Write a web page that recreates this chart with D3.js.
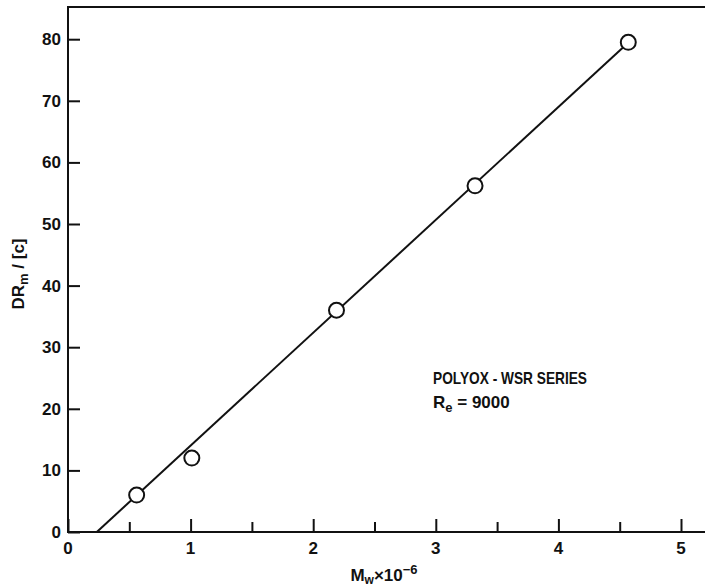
<!DOCTYPE html>
<html>
<head>
<meta charset="utf-8">
<script src="https://cdn.jsdelivr.net/npm/d3@7"></script>
<style>
  body { margin: 0; background: #fff; }
  text { font-family: "Liberation Sans", Arial, sans-serif; font-weight: bold; fill: #111; }
</style>
</head>
<body>
<svg id="chart" width="705" height="588"></svg>
<script>
// measured points, M_w x 10^-6 vs DR_m/[c]
const mw = [0.56, 1.01, 2.19, 3.32, 4.57]
const drc = [6, 12, 36, 56.2, 79.5]
// fitted straight line, two ends in data units
const fitX = [0.235, 4.6]
const fitY = [0, 80]
const xTicks = [0, 1, 2, 3, 4, 5]
const xMinorTicks = [0.5, 1.5, 2.5, 3.5, 4.5]
const yTicks = [0, 10, 20, 30, 40, 50, 60, 70, 80]

const svg = d3.select('#chart')
const plotLeft = 68, plotRight = 705, plotTop = 7, plotBottom = 532

const x = d3.scaleLinear().domain([0, 5]).range([plotLeft, plotLeft + 5*122.6])
const y = d3.scaleLinear().domain([0, 80]).range([plotBottom, plotBottom - 8*61.6])

const ink = '#111'
const fs = 17

// frame: left, bottom, top
svg.append('path')
   .attr('d', `M${plotRight},${plotTop} L${plotLeft},${plotTop} L${plotLeft},${plotBottom} L${plotRight},${plotBottom}`)
   .attr('fill', 'none').attr('stroke', ink).attr('stroke-width', 2)

// x axis, ticks pointing up into plot
const xAxis = d3.axisTop(x).tickValues(xTicks).tickSize(13).tickFormat('')
const gx = svg.append('g').attr('transform', `translate(0,${plotBottom})`).call(xAxis)
gx.select('.domain').remove()
gx.selectAll('line').attr('stroke', ink).attr('stroke-width', 2)

const xMinor = d3.axisTop(x).tickValues(xMinorTicks).tickSize(10).tickFormat('')
const gxm = svg.append('g').attr('transform', `translate(0,${plotBottom})`).call(xMinor)
gxm.select('.domain').remove()
gxm.selectAll('line').attr('stroke', ink).attr('stroke-width', 2)

svg.append('g').selectAll('text').data(xTicks).join('text')
   .attr('x', d => x(d)).attr('y', plotBottom + 22)
   .attr('text-anchor', 'middle').attr('font-size', fs)
   .text(d => d)

// y axis, ticks pointing right into plot
const yAxis = d3.axisRight(y).tickValues(yTicks).tickSize(12).tickFormat('')
const gy = svg.append('g').attr('transform', `translate(${plotLeft},0)`).call(yAxis)
gy.select('.domain').remove()
gy.selectAll('line').attr('stroke', ink).attr('stroke-width', 2)

svg.append('g').selectAll('text').data(yTicks).join('text')
   .attr('x', plotLeft - 7).attr('y', d => y(d) + 6)
   .attr('text-anchor', 'end').attr('font-size', fs)
   .text(d => d)

// fitted line
svg.append('line')
   .attr('x1', x(fitX[0])).attr('y1', y(fitY[0]))
   .attr('x2', x(fitX[1])).attr('y2', y(fitY[1]))
   .attr('stroke', ink).attr('stroke-width', 2)

// open circles
svg.append('g').selectAll('circle').data(mw.map((d, i) => [d, drc[i]])).join('circle')
   .attr('cx', d => x(d[0])).attr('cy', d => y(d[1])).attr('r', 7.5)
   .attr('fill', '#fff').attr('stroke', ink).attr('stroke-width', 2)

// axis titles
const yl = svg.append('text')
   .attr('transform', 'translate(24,274) rotate(-90)')
   .attr('text-anchor', 'middle').attr('font-size', fs)
yl.append('tspan').text('DR')
yl.append('tspan').attr('font-size', 13).attr('dy', 4).text('m')
yl.append('tspan').attr('dy', -4).text(' / [c]')

const xl = svg.append('text')
   .attr('x', 384).attr('y', 581)
   .attr('text-anchor', 'middle').attr('font-size', fs)
xl.append('tspan').text('M')
xl.append('tspan').attr('font-size', 12).attr('dy', 3).text('w')
xl.append('tspan').attr('dy', -3).text('×10')
xl.append('tspan').attr('font-size', 13).attr('dy', -7).text('−6')

// annotation
svg.append('text').attr('x', 433).attr('y', 384).attr('font-size', fs)
   .attr('textLength', 154).attr('lengthAdjust', 'spacingAndGlyphs')
   .text('POLYOX - WSR SERIES')
const re = svg.append('text').attr('x', 433).attr('y', 408).attr('font-size', fs)
re.append('tspan').text('R')
re.append('tspan').attr('font-size', 13).attr('dy', 4).text('e')
re.append('tspan').attr('dy', -4).text(' = 9000')
</script>
</body>
</html>
